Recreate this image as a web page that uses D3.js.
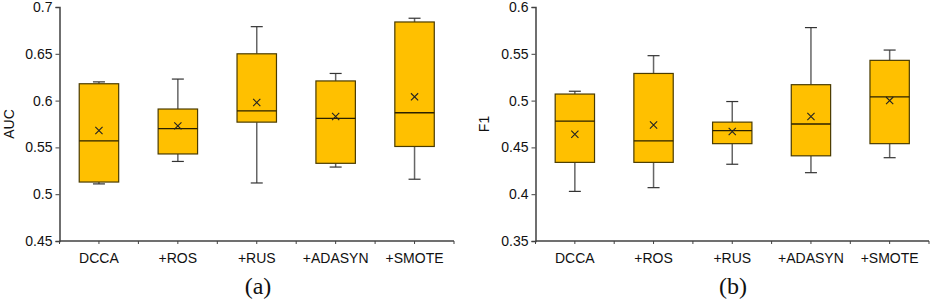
<!DOCTYPE html>
<html>
<head>
<meta charset="utf-8">
<script src="https://cdn.jsdelivr.net/npm/d3@7"></script>
<style>
  body { margin: 0; background: #fff; }
  text { font-family: "Liberation Sans", Arial, sans-serif; }
  .caption { font-family: "Liberation Serif", "Times New Roman", serif; }
</style>
</head>
<body>
<svg id="chart" width="932" height="302"></svg>
<script>
const categories = ['DCCA', '+ROS', '+RUS', '+ADASYN', '+SMOTE'];

// AUC panel (a)
const aucLow    = [0.511, 0.535, 0.512, 0.529, 0.516];
const aucQ1     = [0.513, 0.543, 0.577, 0.533, 0.551];
const aucMedian = [0.557, 0.570, 0.589, 0.581, 0.587];
const aucQ3     = [0.618, 0.591, 0.650, 0.621, 0.684];
const aucHigh   = [0.620, 0.623, 0.679, 0.629, 0.688];
const aucMean   = [0.568, 0.573, 0.598, 0.583, 0.604];
const aucTicks  = [0.45, 0.5, 0.55, 0.6, 0.65, 0.7];

// F1 panel (b)
const f1Low    = [0.403, 0.407, 0.432, 0.423, 0.439];
const f1Q1     = [0.434, 0.434, 0.454, 0.441, 0.454];
const f1Median = [0.478, 0.457, 0.468, 0.475, 0.504];
const f1Q3     = [0.507, 0.529, 0.477, 0.517, 0.543];
const f1High   = [0.510, 0.548, 0.499, 0.578, 0.554];
const f1Mean   = [0.464, 0.474, 0.467, 0.483, 0.500];
const f1Ticks  = [0.35, 0.4, 0.45, 0.5, 0.55, 0.6];

const svg = d3.select('#chart');

function drawPanel(cfg) {
  const rows = categories.map((c, i) => ({
    cat: c, low: cfg.low[i], q1: cfg.q1[i], med: cfg.median[i],
    q3: cfg.q3[i], high: cfg.high[i], mean: cfg.mean[i]
  }));

  const x = d3.scaleBand().domain(categories).range([cfg.left, cfg.right]).padding(0);
  const y = d3.scaleLinear().domain(d3.extent(cfg.ticks)).range([241, 7]);
  const g = svg.append('g');
  const bw = x.bandwidth() * 0.5;

  // y axis
  const yAxis = d3.axisLeft(y).tickValues(cfg.ticks).tickSize(4).tickPadding(3)
      .tickFormat(d => String(+d.toFixed(2)));
  const yG = g.append('g').attr('transform', `translate(${cfg.left},0)`).call(yAxis);
  yG.select('.domain').attr('stroke', '#404040').attr('stroke-width', 1.5);
  yG.selectAll('.tick line').attr('stroke', '#404040');
  yG.selectAll('.tick text').attr('fill', '#111').style('font-size', '14px');

  // x axis line with ticks at band edges and centres
  g.append('line')
    .attr('x1', cfg.left).attr('x2', cfg.right)
    .attr('y1', y.range()[0]).attr('y2', y.range()[0])
    .attr('stroke', '#404040').attr('stroke-width', 1.5);
  const tickXs = [];
  categories.forEach(c => { tickXs.push(x(c)); tickXs.push(x(c) + x.bandwidth() / 2); });
  tickXs.push(cfg.right);
  g.selectAll('.xt').data(tickXs).enter().append('line')
    .attr('x1', d => d).attr('x2', d => d)
    .attr('y1', y.range()[0]).attr('y2', y.range()[0] + 3)
    .attr('stroke', '#404040');
  g.selectAll('.xl').data(categories).enter().append('text')
    .attr('x', d => x(d) + x.bandwidth() / 2)
    .attr('y', 263)
    .attr('text-anchor', 'middle')
    .style('font-size', '14px')
    .attr('fill', '#111')
    .text(d => d);

  // axis title
  g.append('text')
    .attr('transform', `translate(${cfg.titleX},${(y.range()[0] + y.range()[1]) / 2}) rotate(-90)`)
    .attr('text-anchor', 'middle')
    .style('font-size', '14px')
    .attr('fill', '#111')
    .text(cfg.title);

  const box = g.selectAll('.box').data(rows).enter().append('g');
  const cx = d => x(d.cat) + x.bandwidth() / 2;

  // whiskers
  box.append('line')
    .attr('x1', cx).attr('x2', cx)
    .attr('y1', d => y(d.q3)).attr('y2', d => y(d.high))
    .attr('stroke', '#666').attr('stroke-width', 1.5);
  box.append('line')
    .attr('x1', cx).attr('x2', cx)
    .attr('y1', d => y(d.q1)).attr('y2', d => y(d.low))
    .attr('stroke', '#666').attr('stroke-width', 1.5);
  box.append('line')
    .attr('x1', d => cx(d) - 6).attr('x2', d => cx(d) + 6)
    .attr('y1', d => y(d.high)).attr('y2', d => y(d.high))
    .attr('stroke', '#333').attr('stroke-width', 1.2);
  box.append('line')
    .attr('x1', d => cx(d) - 6).attr('x2', d => cx(d) + 6)
    .attr('y1', d => y(d.low)).attr('y2', d => y(d.low))
    .attr('stroke', '#333').attr('stroke-width', 1.2);

  // boxes
  box.append('rect')
    .attr('x', d => cx(d) - bw / 2)
    .attr('width', bw)
    .attr('y', d => y(d.q3))
    .attr('height', d => y(d.q1) - y(d.q3))
    .attr('fill', '#FFC000')
    .attr('stroke', '#4a3b00')
    .attr('stroke-width', 1.2);

  // median
  box.append('line')
    .attr('x1', d => cx(d) - bw / 2).attr('x2', d => cx(d) + bw / 2)
    .attr('y1', d => y(d.med)).attr('y2', d => y(d.med))
    .attr('stroke', '#2a2000').attr('stroke-width', 1.3);

  // mean marker
  const m = 3.6;
  box.append('path')
    .attr('d', d => `M${cx(d) - m},${y(d.mean) - m}L${cx(d) + m},${y(d.mean) + m}` +
                    `M${cx(d) - m},${y(d.mean) + m}L${cx(d) + m},${y(d.mean) - m}`)
    .attr('stroke', '#222').attr('stroke-width', 1.1).attr('fill', 'none');

  // caption
  g.append('text')
    .attr('class', 'caption')
    .attr('x', cfg.captionX)
    .attr('y', 294)
    .attr('text-anchor', 'middle')
    .style('font-size', '24px')
    .attr('fill', '#111')
    .text(cfg.caption);
}

drawPanel({
  left: 59.5, right: 454, titleX: 14, title: 'AUC', caption: '(a)', captionX: 258,
  ticks: aucTicks, low: aucLow, q1: aucQ1, median: aucMedian, q3: aucQ3, high: aucHigh, mean: aucMean
});

drawPanel({
  left: 535.5, right: 929, titleX: 489, title: 'F1', caption: '(b)', captionX: 733,
  ticks: f1Ticks, low: f1Low, q1: f1Q1, median: f1Median, q3: f1Q3, high: f1High, mean: f1Mean
});
</script>
</body>
</html>
